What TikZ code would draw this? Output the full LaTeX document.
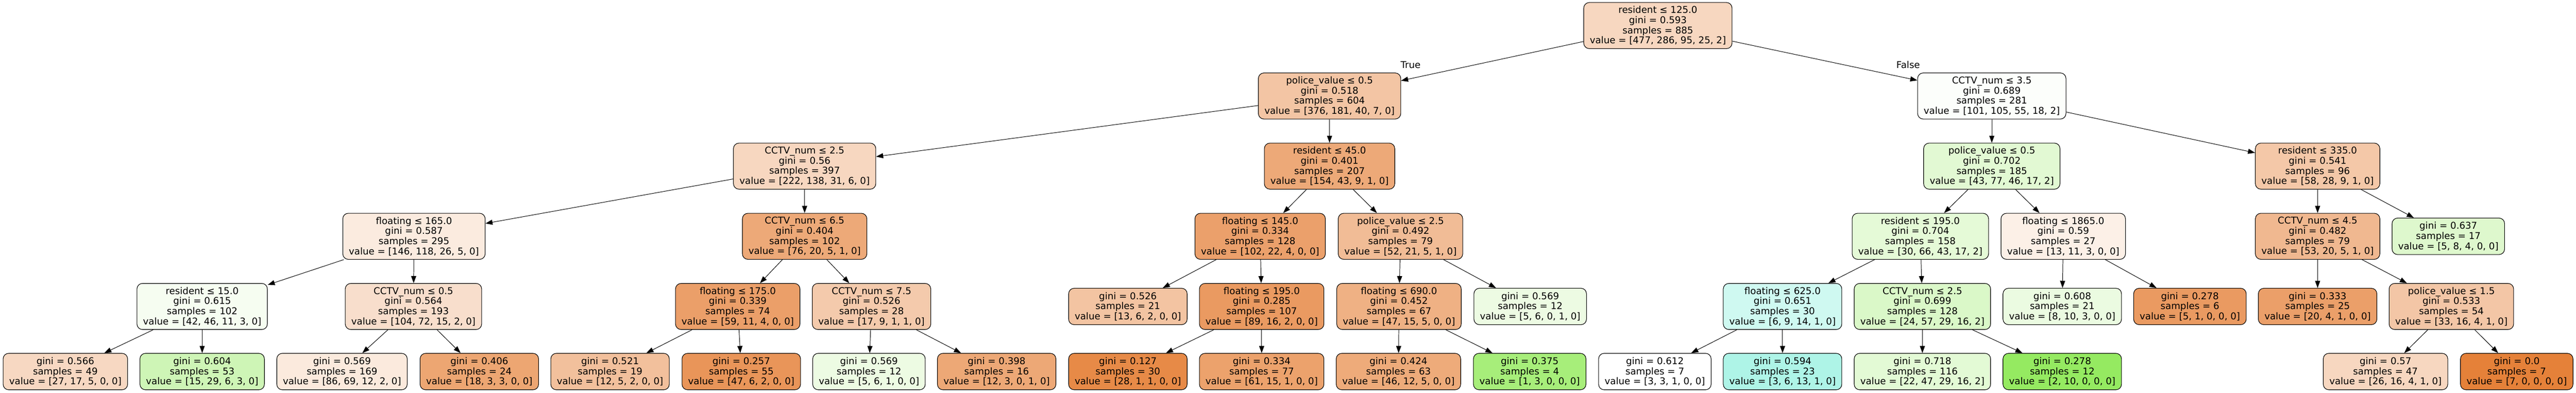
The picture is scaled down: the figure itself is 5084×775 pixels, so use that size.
\documentclass[tikz,border=0pt]{standalone}
\usepackage{fontspec}
\setmainfont{DejaVu Sans}
\usetikzlibrary{arrows.meta}
\definecolor{cO}{RGB}{229,129,57}
\definecolor{cG}{RGB}{123,229,57}
\definecolor{cC}{RGB}{57,229,197}
\tikzset{
  split/.style={draw, line width=1.1pt, rounded corners=11pt, align=center, inner xsep=12pt, inner ysep=0pt, minimum height=91pt},
  leaf/.style={split, minimum height=72pt},
  link/.style={-{Triangle[length=14pt,width=10pt]}, line width=1pt},
}
\begin{document}
\begin{tikzpicture}[x=1pt, y=1pt, font=\fontsize{18.5}{20}\selectfont]
\fill[white] (0,0) rectangle (5084,-775);
\useasboundingbox (0,0) rectangle (5084,-775);

\node[split, fill=cO!32] (n) at (3272,-50.5) {resident ≤ 125.0\\gini = 0.593\\samples = 885\\value = [477, 286, 95, 25, 2]};

\node[split, fill=cO!46] (nL) at (2624,-189.5) {police\_value ≤ 0.5\\gini = 0.518\\samples = 604\\value = [376, 181, 40, 7, 0]};
\node[split, fill=cG!2] (nR) at (3931,-189.5) {CCTV\_num ≤ 3.5\\gini = 0.689\\samples = 281\\value = [101, 105, 55, 18, 2]};

\node[split, fill=cO!32] (nLL) at (1588,-328) {CCTV\_num ≤ 2.5\\gini = 0.56\\samples = 397\\value = [222, 138, 31, 6, 0]};
\node[split, fill=cO!68] (nLR) at (2624,-328) {resident ≤ 45.0\\gini = 0.401\\samples = 207\\value = [154, 43, 9, 1, 0]};
\node[split, fill=cG!22] (nRL) at (3931,-328) {police\_value ≤ 0.5\\gini = 0.702\\samples = 185\\value = [43, 77, 46, 17, 2]};
\node[split, fill=cO!44] (nRR) at (4574,-328) {resident ≤ 335.0\\gini = 0.541\\samples = 96\\value = [58, 28, 9, 1, 0]};

\node[split, fill=cO!16] (nLLL) at (817,-466.5) {floating ≤ 165.0\\gini = 0.587\\samples = 295\\value = [146, 118, 26, 5, 0]};
\node[split, fill=cO!68] (nLLR) at (1588,-466.5) {CCTV\_num ≤ 6.5\\gini = 0.404\\samples = 102\\value = [76, 20, 5, 1, 0]};
\node[split, fill=cO!75] (nLRL) at (2487,-466.5) {floating ≤ 145.0\\gini = 0.334\\samples = 128\\value = [102, 22, 4, 0, 0]};
\node[split, fill=cO!53] (nLRR) at (2764,-466.5) {police\_value ≤ 2.5\\gini = 0.492\\samples = 79\\value = [52, 21, 5, 1, 0]};
\node[split, fill=cG!20] (nRLL) at (3790,-466.5) {resident ≤ 195.0\\gini = 0.704\\samples = 158\\value = [30, 66, 43, 17, 2]};
\node[split, fill=cO!12] (nRLR) at (4072,-466.5) {floating ≤ 1865.0\\gini = 0.59\\samples = 27\\value = [13, 11, 3, 0, 0]};
\node[split, fill=cO!56] (nRRL) at (4574,-466.5) {CCTV\_num ≤ 4.5\\gini = 0.482\\samples = 79\\value = [53, 20, 5, 1, 0]};
\node[leaf, fill=cG!25] (nRRR) at (4832,-466.5) {gini = 0.637\\samples = 17\\value = [5, 8, 4, 0, 0]};

\node[split, fill=cG!7] (nLLLL) at (399,-605) {resident ≤ 15.0\\gini = 0.615\\samples = 102\\value = [42, 46, 11, 3, 0]};
\node[split, fill=cO!26] (nLLLR) at (816,-605) {CCTV\_num ≤ 0.5\\gini = 0.564\\samples = 193\\value = [104, 72, 15, 2, 0]};
\node[split, fill=cO!76] (nLLRL) at (1456,-605) {floating ≤ 175.0\\gini = 0.339\\samples = 74\\value = [59, 11, 4, 0, 0]};
\node[split, fill=cO!42] (nLLRR) at (1720,-605) {CCTV\_num ≤ 7.5\\gini = 0.526\\samples = 28\\value = [17, 9, 1, 1, 0]};
\node[leaf, fill=cO!47] (nLRLL) at (2226,-605) {gini = 0.526\\samples = 21\\value = [13, 6, 2, 0, 0]};
\node[split, fill=cO!80] (nLRLR) at (2490,-605) {floating ≤ 195.0\\gini = 0.285\\samples = 107\\value = [89, 16, 2, 0, 0]};
\node[split, fill=cO!62] (nLRRL) at (2761,-605) {floating ≤ 690.0\\gini = 0.452\\samples = 67\\value = [47, 15, 5, 0, 0]};
\node[leaf, fill=cG!14] (nLRRR) at (3020,-605) {gini = 0.569\\samples = 12\\value = [5, 6, 0, 1, 0]};
\node[split, fill=cC!24] (nRLLL) at (3518,-605) {floating ≤ 625.0\\gini = 0.651\\samples = 30\\value = [6, 9, 14, 1, 0]};
\node[split, fill=cG!28] (nRLLR) at (3794,-605) {CCTV\_num ≤ 2.5\\gini = 0.699\\samples = 128\\value = [24, 57, 29, 16, 2]};
\node[leaf, fill=cG!15] (nRLRL) at (4070,-605) {gini = 0.608\\samples = 21\\value = [8, 10, 3, 0, 0]};
\node[leaf, fill=cO!80] (nRLRR) at (4322,-605) {gini = 0.278\\samples = 6\\value = [5, 1, 0, 0, 0]};
\node[leaf, fill=cO!76] (nRRLL) at (4574,-605) {gini = 0.333\\samples = 25\\value = [20, 4, 1, 0, 0]};
\node[split, fill=cO!45] (nRRLR) at (4838,-605) {police\_value ≤ 1.5\\gini = 0.533\\samples = 54\\value = [33, 16, 4, 1, 0]};

\foreach \nm/\x/\c/\g/\s/\v in {
  nLLLLL/129/cO!31/0.566/49/{27, 17, 5, 0, 0},
  nLLLLR/399/cG!37/0.604/53/{15, 29, 6, 3, 0},
  nLLLRL/675/cO!17/0.569/169/{86, 69, 12, 2, 0},
  nLLLRR/946/cO!71/0.406/24/{18, 3, 3, 0, 0},
  nLLRLL/1204/cO!50/0.521/19/{12, 5, 2, 0, 0},
  nLLRLR/1463/cO!84/0.257/55/{47, 6, 2, 0, 0},
  nLLRRL/1715/cG!14/0.569/12/{5, 6, 1, 0, 0},
  nLLRRR/1967/cO!69/0.398/16/{12, 3, 0, 1, 0},
  nLRLRL/2226/cO!93/0.127/30/{28, 1, 1, 0, 0},
  nLRLRR/2490/cO!74/0.334/77/{61, 15, 1, 0, 0},
  nLRRLL/2760/cO!67/0.424/63/{46, 12, 5, 0, 0},
  nLRRLR/3019/cG!67/0.375/4/{1, 3, 0, 0, 0},
  nRLLLL/3266/white/0.612/7/{3, 3, 1, 0, 0},
  nRLLLR/3518/cC!41/0.594/23/{3, 6, 13, 1, 0},
  nRLLRL/3794/cG!21/0.718/116/{22, 47, 29, 16, 2},
  nRLLRR/4070/cG!80/0.278/12/{2, 10, 0, 0, 0},
  nRRLRL/4708/cO!32/0.57/47/{26, 16, 4, 1, 0},
  nRRLRR/4967/cO/0.0/7/{7, 0, 0, 0, 0}}
{
  \node[leaf, fill=\c] (\nm) at (\x,-733.5) {gini = \g\\samples = \s\\value = [\v]};
}

\foreach \a/\b in {n/nL, n/nR, nL/nLL, nL/nLR, nR/nRL, nR/nRR,
  nLL/nLLL, nLL/nLLR, nLR/nLRL, nLR/nLRR, nRL/nRLL, nRL/nRLR, nRR/nRRL, nRR/nRRR,
  nLLL/nLLLL, nLLL/nLLLR, nLLR/nLLRL, nLLR/nLLRR, nLRL/nLRLL, nLRL/nLRLR,
  nLRR/nLRRL, nLRR/nLRRR, nRLL/nRLLL, nRLL/nRLLR, nRLR/nRLRL, nRLR/nRLRR,
  nRRL/nRRLL, nRRL/nRRLR,
  nLLLL/nLLLLL, nLLLL/nLLLLR, nLLLR/nLLLRL, nLLLR/nLLLRR, nLLRL/nLLRLL, nLLRL/nLLRLR,
  nLLRR/nLLRRL, nLLRR/nLLRRR, nLRLR/nLRLRL, nLRLR/nLRLRR, nLRRL/nLRRLL, nLRRL/nLRRLR,
  nRLLL/nRLLLL, nRLLL/nRLLLR, nRLLR/nRLLRL, nRLLR/nRLLRR, nRRLR/nRRLRL, nRRLR/nRRLRR}
{
  \draw[link] (\a) -- (\b);
}

\node (lblT) at (2784,-128) {True};
\node (lblF) at (3766,-128) {False};
\end{tikzpicture}
\end{document}
